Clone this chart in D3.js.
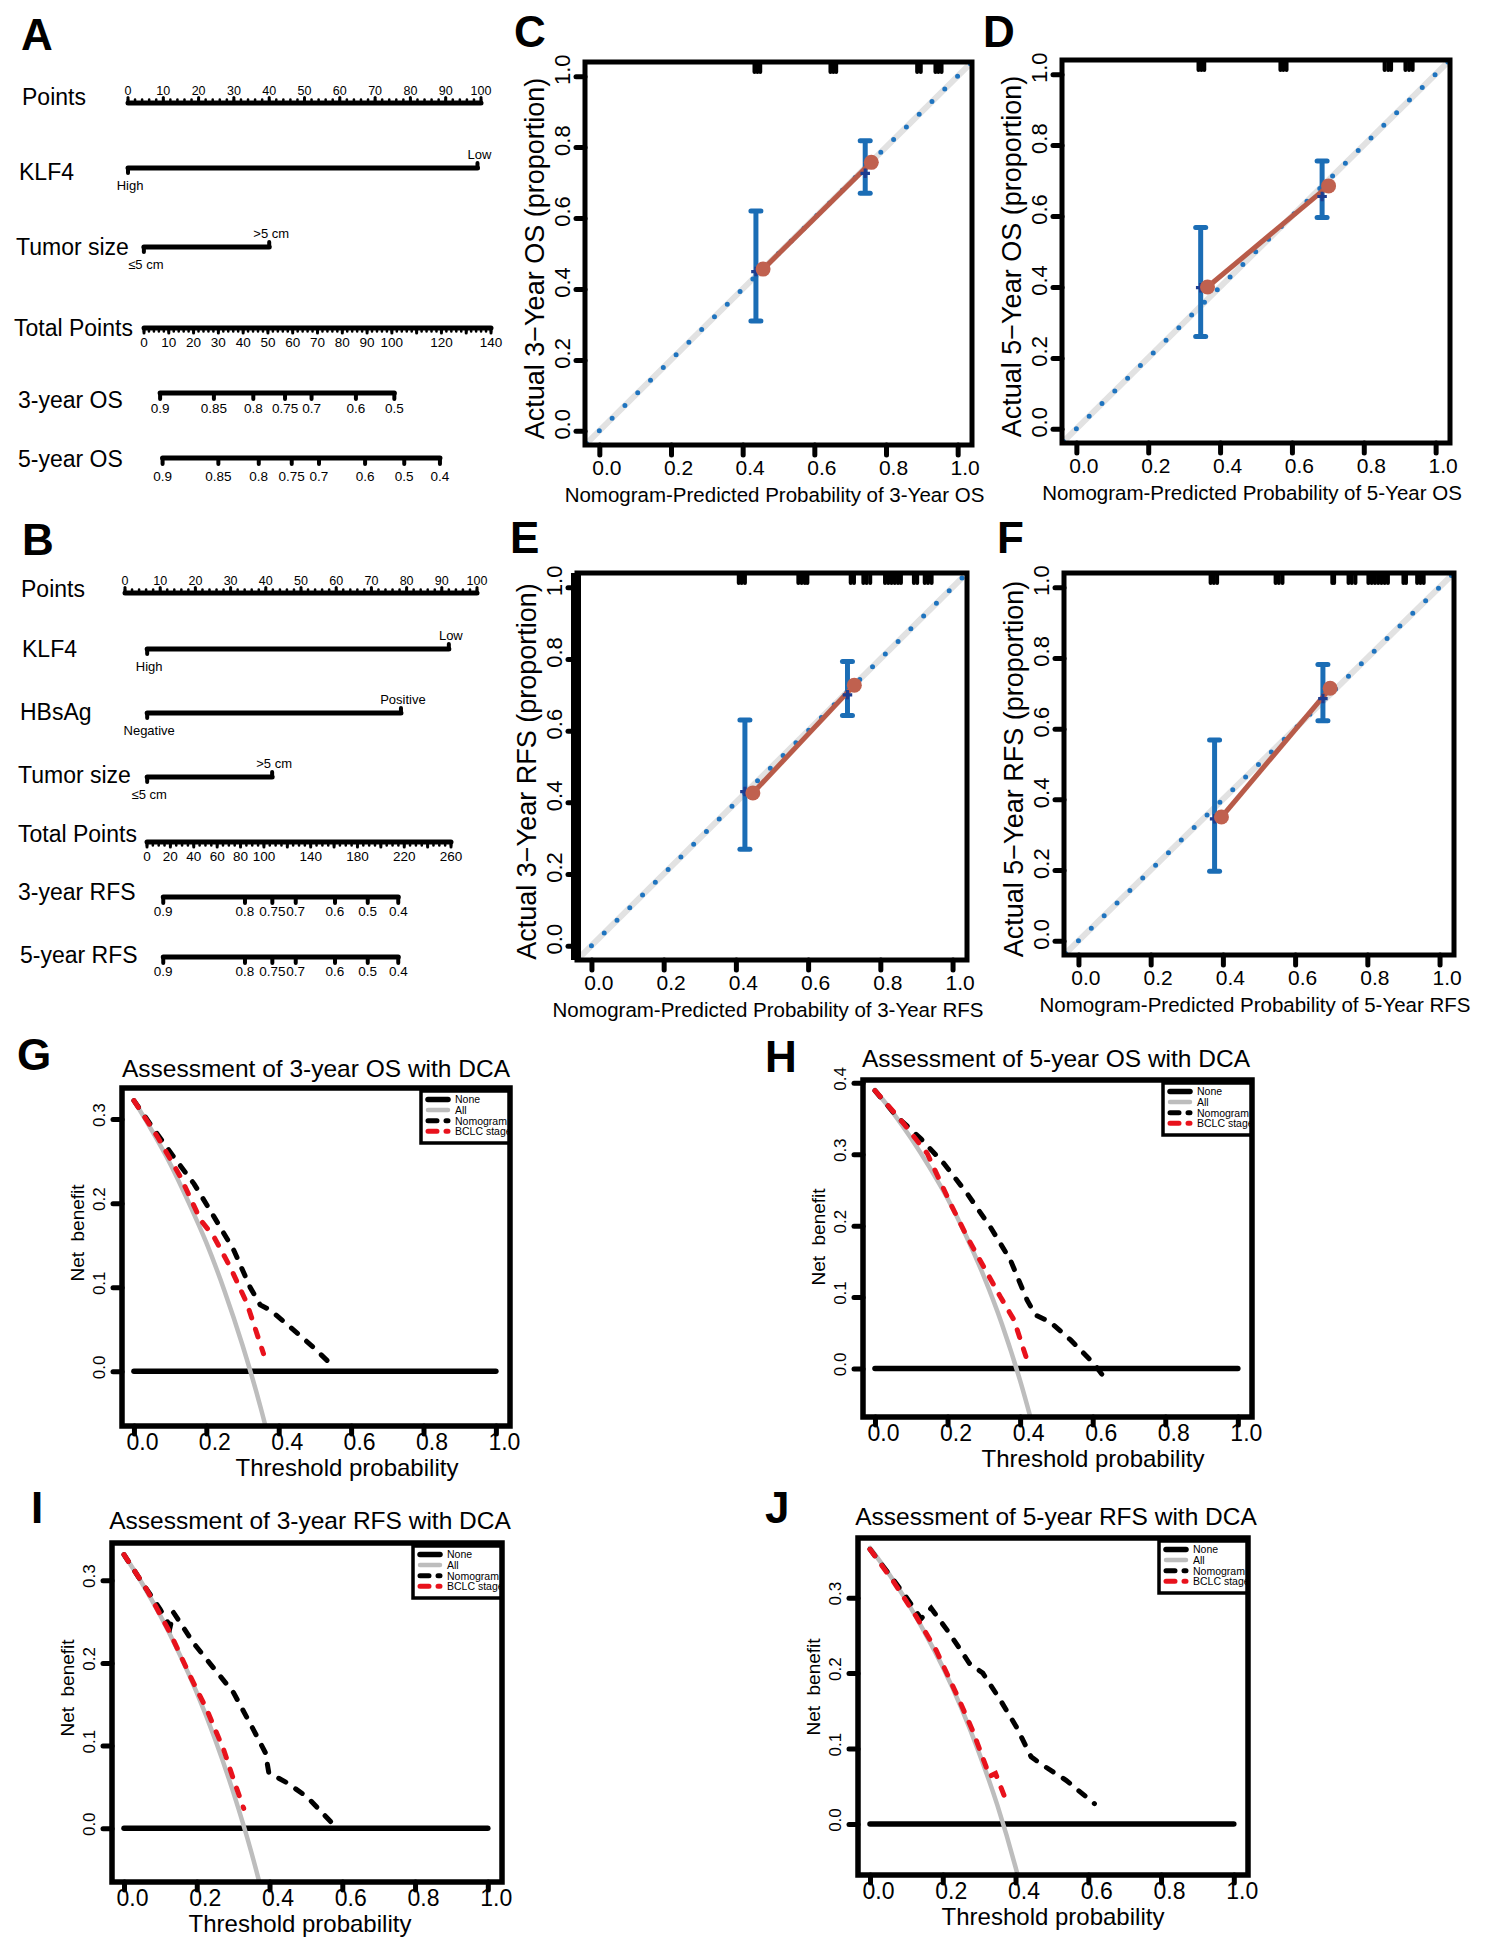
<!DOCTYPE html>
<html>
<head>
<meta charset="utf-8">
<title>KLF4 nomograms, calibration and DCA</title>
<script src="https://cdn.jsdelivr.net/npm/d3@7.9.0/dist/d3.min.js"></script>
<style>
  body { margin: 0; background: #fff; }
  svg text { font-family: "Liberation Sans", Arial, Helvetica, sans-serif; fill: #000; }
</style>
</head>
<body>
<svg id="fig" width="1489" height="1956"></svg>
<script>
// ---------- nomogram values ----------
const pointTicks = [0, 10, 20, 30, 40, 50, 60, 70, 80, 90, 100];
const klf4Levels = ['High', 'Low'];
const sizeLevels = ['≤5 cm', '>5 cm'];
const hbsagLevels = ['Negative', 'Positive'];

const osKlf4Points = [0, 99];
const osSizePoints = [4.5, 40];
const osTotalTicks = [0, 10, 20, 30, 40, 50, 60, 70, 80, 90, 100, 110, 120, 130, 140];
const osTotalLabels = [0, 10, 20, 30, 40, 50, 60, 70, 80, 90, 100, 120, 140];
const os3Labels = ['0.9', '0.85', '0.8', '0.75', '0.7', '0.6', '0.5'];
const os3Total = [6.5, 28.2, 44.1, 56.9, 67.6, 85.5, 101.0];
const os5Labels = ['0.9', '0.85', '0.8', '0.75', '0.7', '0.6', '0.5', '0.4'];
const os5Total = [7.5, 30.0, 46.3, 59.6, 70.6, 89.2, 105.0, 119.4];

const rfsKlf4Points = [6.3, 92];
const rfsHbsagPoints = [6.3, 78.4];
const rfsSizePoints = [6.3, 41.8];
const rfsTotalTicks = [0, 20, 40, 60, 80, 100, 120, 140, 160, 180, 200, 220, 240, 260];
const rfsTotalLabels = [0, 20, 40, 60, 80, 100, 140, 180, 220, 260];
const rfs3Labels = ['0.9', '0.8', '0.75', '0.7', '0.6', '0.5', '0.4'];
const rfs3Total = [13.9, 83.8, 107.2, 127.2, 160.8, 188.8, 214.9];
const rfs5Labels = ['0.9', '0.8', '0.75', '0.7', '0.6', '0.5', '0.4'];
const rfs5Total = [13.9, 83.8, 107.2, 127.2, 160.8, 188.8, 214.9];

// ---------- calibration values ----------
const calTicks = [0, 0.2, 0.4, 0.6, 0.8, 1.0];

const os3Pred = [0.457, 0.759];
const os3Obs = [0.456, 0.757];
const os3BarX = [0.437, 0.742];
const os3BarLo = [0.31, 0.67];
const os3BarHi = [0.62, 0.818];
const os3BarMid = [0.449, 0.726];
const os3Rug = [0.433, 0.441, 0.449, 0.645, 0.653, 0.661, 0.887, 0.897, 0.938, 0.946, 0.955];

const os5Pred = [0.365, 0.702];
const os5Obs = [0.40, 0.685];
const os5BarX = [0.346, 0.684];
const os5BarLo = [0.26, 0.596];
const os5BarHi = [0.568, 0.755];
const os5BarMid = [0.398, 0.655];
const os5Rug = [0.34, 0.348, 0.356, 0.568, 0.576, 0.585, 0.858, 0.868, 0.876, 0.916, 0.926, 0.936];

const rfs3Pred = [0.447, 0.728];
const rfs3Obs = [0.426, 0.727];
const rfs3BarX = [0.425, 0.709];
const rfs3BarLo = [0.269, 0.642];
const rfs3BarHi = [0.63, 0.793];
const rfs3BarMid = [0.43, 0.70];
const rfs3Rug = [0.408, 0.416, 0.425, 0.573, 0.582, 0.591, 0.598, 0.718, 0.727, 0.753, 0.762, 0.772,
                 0.813, 0.822, 0.831, 0.84, 0.849, 0.857, 0.893, 0.902, 0.923, 0.932, 0.942];

const rfs5Pred = [0.396, 0.697];
const rfs5Obs = [0.35, 0.714];
const rfs5BarX = [0.377, 0.677];
const rfs5BarLo = [0.197, 0.622];
const rfs5BarHi = [0.568, 0.781];
const rfs5BarMid = [0.345, 0.685];
const rfs5Rug = [0.366, 0.375, 0.384, 0.546, 0.555, 0.565, 0.703, 0.708, 0.748, 0.757, 0.767,
                 0.803, 0.812, 0.821, 0.83, 0.839, 0.848, 0.857, 0.9, 0.907, 0.938, 0.947, 0.956];

// ---------- decision curve values ----------
const dcaXTicks = [0, 0.2, 0.4, 0.6, 0.8, 1.0];
const legendNames = ['None', 'All', 'Nomogram', 'BCLC stage'];
const noneT = [0, 1];
const noneNB = [0, 0];
const allT = [0, 0.05, 0.1, 0.15, 0.2, 0.25, 0.3, 0.35, 0.4, 0.45];

const os3AllNB = [0.322, 0.286, 0.247, 0.202, 0.153, 0.096, 0.031, -0.043, -0.13, -0.233];
const os3NomoT = [0, 0.05, 0.11, 0.166, 0.221, 0.276, 0.321, 0.349, 0.376, 0.431, 0.495, 0.555];
const os3NomoNB = [0.322, 0.291, 0.255, 0.223, 0.184, 0.144, 0.1, 0.079, 0.073, 0.053, 0.029, 0.004];
const os3BclcT = [0, 0.065, 0.129, 0.184, 0.221, 0.266, 0.312, 0.358];
const os3BclcNB = [0.322, 0.279, 0.231, 0.18, 0.16, 0.124, 0.081, 0.021];

const os5AllNB = [0.39, 0.358, 0.322, 0.282, 0.238, 0.187, 0.129, 0.062, -0.017, -0.109];
const os5NomoT = [0, 0.062, 0.126, 0.19, 0.254, 0.318, 0.373, 0.419, 0.442, 0.483, 0.539, 0.603, 0.644];
const os5NomoNB = [0.389, 0.352, 0.322, 0.287, 0.245, 0.198, 0.152, 0.096, 0.075, 0.065, 0.04, 0.007, -0.021];
const os5BclcT = [0, 0.071, 0.144, 0.208, 0.254, 0.3, 0.346, 0.383, 0.419];
const os5BclcNB = [0.389, 0.348, 0.301, 0.231, 0.184, 0.142, 0.1, 0.068, 0.012];

const rfs3AllNB = [0.331, 0.296, 0.257, 0.213, 0.164, 0.108, 0.044, -0.029, -0.115, -0.216];
const rfs3NomoT = [0, 0.053, 0.099, 0.127, 0.136, 0.191, 0.246, 0.301, 0.356, 0.389, 0.398, 0.448, 0.503, 0.568];
const rfs3NomoNB = [0.331, 0.295, 0.265, 0.244, 0.261, 0.224, 0.194, 0.164, 0.119, 0.091, 0.067, 0.055, 0.038, 0.008];
const rfs3BclcT = [0, 0.062, 0.127, 0.182, 0.228, 0.274, 0.301, 0.329];
const rfs3BclcNB = [0.331, 0.289, 0.236, 0.184, 0.143, 0.095, 0.059, 0.024];

const rfs5AllNB = [0.366, 0.333, 0.296, 0.254, 0.208, 0.155, 0.094, 0.025, -0.057, -0.153];
const rfs5NomoT = [0, 0.062, 0.099, 0.14, 0.168, 0.218, 0.273, 0.31, 0.356, 0.402, 0.443, 0.475, 0.539, 0.617];
const rfs5NomoNB = [0.364, 0.325, 0.301, 0.272, 0.286, 0.253, 0.213, 0.2, 0.166, 0.129, 0.089, 0.078, 0.058, 0.027];
const rfs5BclcT = [0, 0.062, 0.127, 0.182, 0.237, 0.282, 0.319, 0.328, 0.345, 0.37];
const rfs5BclcNB = [0.364, 0.323, 0.275, 0.23, 0.173, 0.124, 0.076, 0.063, 0.067, 0.036];

// ---------- drawing ----------
const svg = d3.select('#fig');
const fmt1 = d3.format('.1f');

function addText(g, x, y, str, size, anchor = 'start') {
  return g.append('text').attr('x', x).attr('y', y)
    .attr('font-size', size).attr('text-anchor', anchor).text(str);
}

function hLine(g, x1, x2, y, w = 5) {
  g.append('line').attr('x1', x1).attr('x2', x2).attr('y1', y).attr('y2', y)
    .attr('stroke', '#000').attr('stroke-width', w).attr('stroke-linecap', 'round');
}

function vTicks(g, xs, y, len, w) {
  g.selectAll(null).data(xs).join('line')
    .attr('x1', d => d).attr('x2', d => d)
    .attr('y1', y).attr('y2', y + len)
    .attr('stroke', '#000').attr('stroke-width', w).attr('stroke-linecap', 'round');
}

function drawNomogram(cfg) {
  const g = svg.append('g');
  const ps = cfg.points;
  const ts = cfg.total;
  cfg.rows.forEach(row => {
    addText(g, row.labelX, row.labelY, row.label, 23);
    if (row.type === 'points') {
      hLine(g, ps(0), ps(100), row.y);
      vTicks(g, d3.range(0, 101, 2).map(ps), row.y, -3.5, 2.5);
      vTicks(g, pointTicks.map(ps), row.y, -5.5, 3);
      pointTicks.forEach(v => addText(g, ps(v), row.y - 8, v, 12.5, 'middle'));
    } else if (row.type === 'factor') {
      const [a, b] = row.values.map(ps);
      hLine(g, a, b, row.y);
      vTicks(g, [a], row.y, 5, 4);
      vTicks(g, [b], row.y, -5, 4);
      addText(g, a + 2, row.y + 22, row.levels[0], 13, 'middle');
      addText(g, b + 2, row.y - 9, row.levels[1], 13, 'middle');
    } else if (row.type === 'total') {
      const max = row.ticks[row.ticks.length - 1];
      hLine(g, ts(0), ts(max), row.y);
      vTicks(g, d3.range(0, max + 1, row.minor).map(ts), row.y, 3.5, 2.5);
      vTicks(g, row.ticks.map(ts), row.y, 5, 3);
      row.tickLabels.forEach(v => addText(g, ts(v), row.y + 19, v, 13.5, 'middle'));
    } else if (row.type === 'prob') {
      const xs = row.values.map(ts);
      hLine(g, xs[0], xs[xs.length - 1], row.y);
      vTicks(g, xs, row.y, 6, 4);
      row.labels.forEach((l, i) => addText(g, xs[i], row.y + row.labelDy, l, 13.5, 'middle'));
    }
  });
}

drawNomogram({
  points: d3.scaleLinear().domain([0, 100]).range([128, 481]),
  total: d3.scaleLinear().domain([0, 140]).range([144, 491]),
  rows: [
    { type: 'points', label: 'Points', y: 103, labelX: 22, labelY: 105 },
    { type: 'factor', label: 'KLF4', y: 168, labelX: 19, labelY: 180, levels: klf4Levels, values: osKlf4Points },
    { type: 'factor', label: 'Tumor size', y: 247, labelX: 16, labelY: 255, levels: sizeLevels, values: osSizePoints },
    { type: 'total', label: 'Total Points', y: 328, labelX: 14, labelY: 336, ticks: osTotalTicks, tickLabels: osTotalLabels, minor: 2 },
    { type: 'prob', label: '3-year OS', y: 393, labelX: 18, labelY: 408, labels: os3Labels, values: os3Total, labelDy: 20 },
    { type: 'prob', label: '5-year OS', y: 458, labelX: 18, labelY: 467, labels: os5Labels, values: os5Total, labelDy: 23 }
  ]
});

drawNomogram({
  points: d3.scaleLinear().domain([0, 100]).range([125, 477]),
  total: d3.scaleLinear().domain([0, 260]).range([147, 451]),
  rows: [
    { type: 'points', label: 'Points', y: 593, labelX: 21, labelY: 597 },
    { type: 'factor', label: 'KLF4', y: 649, labelX: 22, labelY: 657, levels: klf4Levels, values: rfsKlf4Points },
    { type: 'factor', label: 'HBsAg', y: 713, labelX: 20, labelY: 720, levels: hbsagLevels, values: rfsHbsagPoints },
    { type: 'factor', label: 'Tumor size', y: 777, labelX: 18, labelY: 783, levels: sizeLevels, values: rfsSizePoints },
    { type: 'total', label: 'Total Points', y: 842, labelX: 18, labelY: 842, ticks: rfsTotalTicks, tickLabels: rfsTotalLabels, minor: 5 },
    { type: 'prob', label: '3-year RFS', y: 897, labelX: 18, labelY: 900, labels: rfs3Labels, values: rfs3Total, labelDy: 19 },
    { type: 'prob', label: '5-year RFS', y: 957, labelX: 20, labelY: 963, labels: rfs5Labels, values: rfs5Total, labelDy: 19 }
  ]
});

function makeClip(g, id, box) {
  g.append('clipPath').attr('id', id).append('rect')
    .attr('x', box.x0).attr('y', box.y0)
    .attr('width', box.x1 - box.x0).attr('height', box.y1 - box.y0);
  return g.append('g').attr('clip-path', `url(#${id})`);
}

function styleTicks(axisG) {
  axisG.select('.domain').remove();
  axisG.selectAll('.tick line').attr('stroke', '#000')
    .attr('stroke-width', 5).attr('stroke-linecap', 'round');
}

function drawCalibration(p) {
  const { box } = p;
  const x = d3.scaleLinear().domain([-0.04, 1.04]).range([box.x0, box.x1]);
  const y = d3.scaleLinear().domain([-0.04, 1.04]).range([box.y1, box.y0]);
  const g = svg.append('g');
  const plot = makeClip(g, 'clip-' + p.id, box);

  plot.append('line')
    .attr('x1', x(-0.04)).attr('y1', y(-0.04)).attr('x2', x(1.04)).attr('y2', y(1.04))
    .attr('stroke', '#e2e2e2').attr('stroke-width', 6);
  const lead = Math.hypot(x(0) - x(-0.04), y(-0.04) - y(0));
  plot.append('line')
    .attr('x1', x(-0.04)).attr('y1', y(-0.04)).attr('x2', x(1.04)).attr('y2', y(1.04))
    .attr('stroke', '#1f74bf').attr('stroke-width', 5).attr('stroke-linecap', 'round')
    .attr('stroke-dasharray', '0 18').attr('stroke-dashoffset', 18 - (lead % 18));

  const bars = p.barX.map((bx, i) => ({ bx, lo: p.barLo[i], hi: p.barHi[i], mid: p.barMid[i] }));
  const blue = '#1b6db5';
  plot.selectAll(null).data(bars).join('line')
    .attr('x1', d => x(d.bx)).attr('x2', d => x(d.bx))
    .attr('y1', d => y(d.lo)).attr('y2', d => y(d.hi))
    .attr('stroke', blue).attr('stroke-width', 5);
  plot.selectAll(null).data(bars.flatMap(d => [[d.bx, d.lo], [d.bx, d.hi]])).join('line')
    .attr('x1', d => x(d[0]) - 5).attr('x2', d => x(d[0]) + 5)
    .attr('y1', d => y(d[1])).attr('y2', d => y(d[1]))
    .attr('stroke', blue).attr('stroke-width', 5).attr('stroke-linecap', 'round');

  const obs = d3.zip(p.pred, p.obs);
  plot.append('path').datum(obs)
    .attr('d', d3.line().x(d => x(d[0])).y(d => y(d[1])))
    .attr('fill', 'none').attr('stroke', '#b85b49').attr('stroke-width', 5);
  plot.selectAll(null).data(bars).join('path')
    .attr('transform', d => `translate(${x(d.bx)},${y(d.mid)})`)
    .attr('d', d3.symbol(d3.symbolCross, 50))
    .attr('fill', '#1e3d90');
  plot.selectAll(null).data(obs).join('circle')
    .attr('cx', d => x(d[0])).attr('cy', d => y(d[1])).attr('r', 7.5)
    .attr('fill', '#c0614f');

  plot.selectAll(null).data(p.rug).join('line')
    .attr('x1', d => x(d)).attr('x2', d => x(d))
    .attr('y1', y(1.012)).attr('y2', y(1.04))
    .attr('stroke', '#000').attr('stroke-width', 4).attr('stroke-linecap', 'round');

  const xAxis = g.append('g').attr('transform', `translate(0,${box.y1})`)
    .call(d3.axisBottom(x).tickValues(calTicks).tickSize(10).tickFormat(fmt1));
  styleTicks(xAxis);
  xAxis.selectAll('.tick text').attr('y', 30).attr('dy', 0).attr('dx', 7).attr('font-size', 21);

  const yAxis = g.append('g').attr('transform', `translate(${box.x0},0)`)
    .call(d3.axisLeft(y).tickValues(calTicks).tickSize(9).tickFormat(fmt1));
  styleTicks(yAxis);
  yAxis.selectAll('.tick text').attr('transform', 'rotate(-90)')
    .attr('x', 7).attr('y', -15).attr('dy', 0).attr('text-anchor', 'middle').attr('font-size', 22);

  g.append('rect').attr('x', box.x0).attr('y', box.y0)
    .attr('width', box.x1 - box.x0).attr('height', box.y1 - box.y0)
    .attr('fill', 'none').attr('stroke', '#000').attr('stroke-width', 5);
  if (p.leftWeight) {
    g.append('line').attr('x1', box.x0 - 1).attr('x2', box.x0 - 1).attr('y1', box.y0).attr('y2', box.y1)
      .attr('stroke', '#000').attr('stroke-width', p.leftWeight);
  }

  const cx = (box.x0 + box.x1) / 2, cy = (box.y0 + box.y1) / 2;
  addText(g, cx - 4, box.y1 + 57, p.xTitle, 20.5, 'middle');
  g.append('text').attr('transform', `translate(${box.x0 - 41},${cy + 5}) rotate(-90)`)
    .attr('font-size', 27).attr('text-anchor', 'middle').text(p.yTitle);
}

drawCalibration({
  id: 'c', box: { x0: 585, x1: 972, y0: 62, y1: 445 },
  pred: os3Pred, obs: os3Obs, barX: os3BarX, barLo: os3BarLo, barHi: os3BarHi, barMid: os3BarMid, rug: os3Rug,
  xTitle: 'Nomogram-Predicted Probability of 3-Year OS', yTitle: 'Actual 3\u2212Year OS (proportion)'
});
drawCalibration({
  id: 'd', box: { x0: 1062, x1: 1450, y0: 60, y1: 443 },
  pred: os5Pred, obs: os5Obs, barX: os5BarX, barLo: os5BarLo, barHi: os5BarHi, barMid: os5BarMid, rug: os5Rug,
  xTitle: 'Nomogram-Predicted Probability of 5-Year OS', yTitle: 'Actual 5\u2212Year OS (proportion)'
});
drawCalibration({
  id: 'e', box: { x0: 577, x1: 967, y0: 573, y1: 960 }, leftWeight: 10,
  pred: rfs3Pred, obs: rfs3Obs, barX: rfs3BarX, barLo: rfs3BarLo, barHi: rfs3BarHi, barMid: rfs3BarMid, rug: rfs3Rug,
  xTitle: 'Nomogram-Predicted Probability of 3-Year RFS', yTitle: 'Actual 3\u2212Year RFS (proportion)'
});
drawCalibration({
  id: 'f', box: { x0: 1064, x1: 1454, y0: 573, y1: 955 },
  pred: rfs5Pred, obs: rfs5Obs, barX: rfs5BarX, barLo: rfs5BarLo, barHi: rfs5BarHi, barMid: rfs5BarMid, rug: rfs5Rug,
  xTitle: 'Nomogram-Predicted Probability of 5-Year RFS', yTitle: 'Actual 5\u2212Year RFS (proportion)'
});

const dcaStyle = {
  'None': { color: '#000', width: 5.5, dash: null },
  'All': { color: '#bdbdbd', width: 4.5, dash: null },
  'Nomogram': { color: '#000', width: 5, dash: '8 12' },
  'BCLC stage': { color: '#e8121c', width: 5, dash: '8 12' }
};

function drawDCA(p) {
  const { box } = p;
  const x = d3.scaleLinear().domain([-0.033, 1.039]).range([box.x0, box.x1]);
  const y = d3.scaleLinear().domain(p.yDomain).range([box.y1, box.y0]);
  const g = svg.append('g');
  const plot = makeClip(g, 'clip-' + p.id, box);

  const series = [
    { name: 'None', pts: d3.zip(noneT, noneNB), curve: d3.curveLinear },
    { name: 'All', pts: d3.zip(allT, p.allNB), curve: d3.curveMonotoneX },
    { name: 'Nomogram', pts: d3.zip(p.nomoT, p.nomoNB), curve: d3.curveLinear },
    { name: 'BCLC stage', pts: d3.zip(p.bclcT, p.bclcNB), curve: d3.curveLinear }
  ];
  series.forEach(s => {
    const st = dcaStyle[s.name];
    plot.append('path').datum(s.pts)
      .attr('d', d3.line().x(d => x(d[0])).y(d => y(d[1])).curve(s.curve))
      .attr('fill', 'none').attr('stroke', st.color).attr('stroke-width', st.width)
      .attr('stroke-linecap', 'round').attr('stroke-dasharray', st.dash);
  });

  // legend sits in the top-right corner and is cut by the plot region
  const lx = box.x1 - 89, ly = box.y0 + 3;
  const lg = plot.append('g');
  lg.append('rect').attr('x', lx).attr('y', ly).attr('width', 130).attr('height', 52)
    .attr('fill', '#fff').attr('stroke', '#000').attr('stroke-width', 3.5);
  legendNames.forEach((name, i) => {
    const st = dcaStyle[name];
    const yy = ly + 8.5 + i * 10.6;
    lg.append('line').attr('x1', lx + 7).attr('x2', lx + 27).attr('y1', yy).attr('y2', yy)
      .attr('stroke', st.color).attr('stroke-width', st.width).attr('stroke-linecap', 'round')
      .attr('stroke-dasharray', st.dash ? '9 9' : null);
    lg.append('text').attr('x', lx + 34).attr('y', yy + 3.8).attr('font-size', 10.5).text(name);
  });

  const xAxis = g.append('g').attr('transform', `translate(0,${box.y1})`)
    .call(d3.axisBottom(x).tickValues(dcaXTicks).tickSize(8).tickFormat(fmt1));
  styleTicks(xAxis);
  xAxis.selectAll('.tick text').attr('y', 24).attr('dy', 0).attr('dx', 8).attr('font-size', 23);

  const yAxis = g.append('g').attr('transform', `translate(${box.x0},0)`)
    .call(d3.axisLeft(y).tickValues(p.yTicks).tickSize(9).tickFormat(fmt1));
  styleTicks(yAxis);
  yAxis.selectAll('.tick text').attr('transform', 'rotate(-90)')
    .attr('x', 4.5).attr('y', -17).attr('dy', 0).attr('text-anchor', 'middle').attr('font-size', 17);

  g.append('rect').attr('x', box.x0).attr('y', box.y0)
    .attr('width', box.x1 - box.x0).attr('height', box.y1 - box.y0)
    .attr('fill', 'none').attr('stroke', '#000').attr('stroke-width', 5.5);

  addText(g, p.titleX, p.titleY, p.title, 24.5, 'middle');
  addText(g, p.xTitleX, box.y1 + 50, 'Threshold probability', 24, 'middle');
  g.append('text').attr('transform', `translate(${box.x0 - 38},${p.yTitleY}) rotate(-90)`)
    .attr('font-size', 19).attr('text-anchor', 'middle').text('Net\u00a0\u00a0benefit');
}

drawDCA({
  id: 'g', box: { x0: 122, x1: 510, y0: 1088, y1: 1426 },
  yDomain: [-0.065, 0.337], yTicks: [0, 0.1, 0.2, 0.3],
  allNB: os3AllNB, nomoT: os3NomoT, nomoNB: os3NomoNB, bclcT: os3BclcT, bclcNB: os3BclcNB,
  title: 'Assessment of 3-year OS with DCA', titleX: 316, titleY: 1077, xTitleX: 347, yTitleY: 1233
});
drawDCA({
  id: 'h', box: { x0: 863, x1: 1252, y0: 1080, y1: 1417 },
  yDomain: [-0.068, 0.404], yTicks: [0, 0.1, 0.2, 0.3, 0.4],
  allNB: os5AllNB, nomoT: os5NomoT, nomoNB: os5NomoNB, bclcT: os5BclcT, bclcNB: os5BclcNB,
  title: 'Assessment of 5-year OS with DCA', titleX: 1056, titleY: 1067, xTitleX: 1093, yTitleY: 1237
});
drawDCA({
  id: 'i', box: { x0: 112, x1: 502, y0: 1543, y1: 1882 },
  yDomain: [-0.065, 0.345], yTicks: [0, 0.1, 0.2, 0.3],
  allNB: rfs3AllNB, nomoT: rfs3NomoT, nomoNB: rfs3NomoNB, bclcT: rfs3BclcT, bclcNB: rfs3BclcNB,
  title: 'Assessment of 3-year RFS with DCA', titleX: 310, titleY: 1529, xTitleX: 300, yTitleY: 1688
});
drawDCA({
  id: 'j', box: { x0: 858, x1: 1248, y0: 1538, y1: 1875 },
  yDomain: [-0.0675, 0.379], yTicks: [0, 0.1, 0.2, 0.3],
  allNB: rfs5AllNB, nomoT: rfs5NomoT, nomoNB: rfs5NomoNB, bclcT: rfs5BclcT, bclcNB: rfs5BclcNB,
  title: 'Assessment of 5-year RFS with DCA', titleX: 1056, titleY: 1525, xTitleX: 1053, yTitleY: 1687
});

// panel letters
const panelLetters = [
  { t: 'A', x: 21, y: 50 }, { t: 'B', x: 22, y: 555 },
  { t: 'C', x: 514, y: 47 }, { t: 'D', x: 983, y: 47 },
  { t: 'E', x: 510, y: 553 }, { t: 'F', x: 997, y: 553 },
  { t: 'G', x: 17, y: 1070 }, { t: 'H', x: 765, y: 1072 },
  { t: 'I', x: 31, y: 1523 }, { t: 'J', x: 765, y: 1523 }
];
svg.append('g').selectAll('text').data(panelLetters).join('text')
  .attr('x', d => d.x).attr('y', d => d.y)
  .attr('font-size', 44).attr('font-weight', 'bold').text(d => d.t);
</script>
</body>
</html>
